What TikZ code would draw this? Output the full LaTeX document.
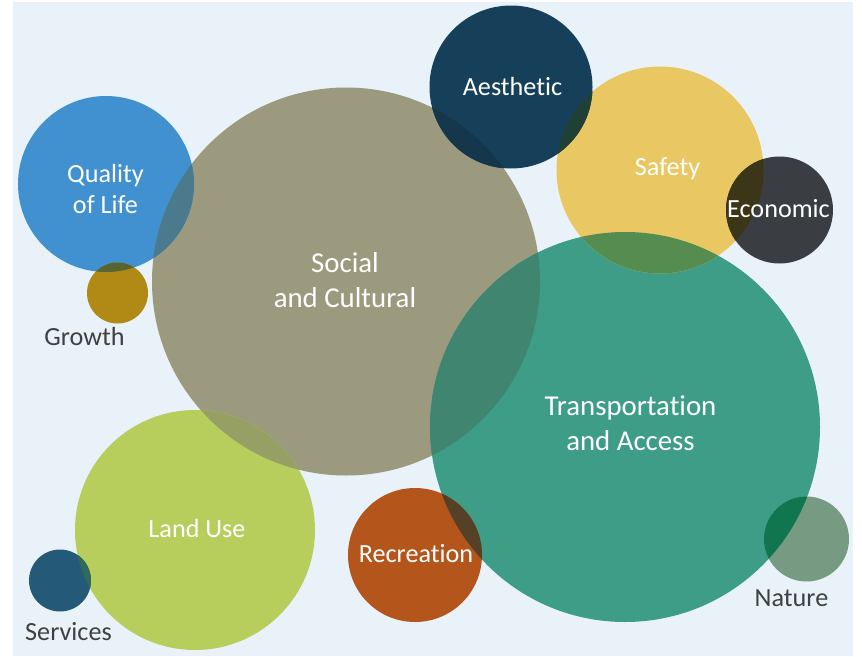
\documentclass[tikz,border=0pt]{standalone}
\usepackage{fontspec}
\setmainfont{Carlito}[Ligatures=NoCommon]
\usepackage{tikz}
\usepackage{xcolor}
\definecolor{pagebg}{RGB}{233,241,249}
\definecolor{tagtext}{RGB}{64,64,64}
\definecolor{qolblue}{RGB}{65,145,208}
\definecolor{growthgold}{RGB}{176,138,20}
\definecolor{socialgray}{RGB}{155,154,126}
\definecolor{aesnavy}{RGB}{22,64,90}
\definecolor{safeyellow}{RGB}{233,199,99}
\definecolor{econgray}{RGB}{58,61,66}
\definecolor{transteal}{RGB}{62,157,135}
\definecolor{landgreen}{RGB}{184,206,92}
\definecolor{recorange}{RGB}{180,86,28}
\definecolor{natgreen}{RGB}{118,155,130}
\definecolor{servblue}{RGB}{36,90,120}

\begin{document}
\begin{tikzpicture}[x=0.02cm,y=-0.02cm,
  bubble/.style={text=white,font=\fontsize{14.9}{17.6}\selectfont,align=center,anchor=base},
  bigbubble/.style={bubble,font=\fontsize{16.4}{19.9}\selectfont},
  tag/.style={text=tagtext,font=\fontsize{14.9}{17.6}\selectfont,anchor=base}]
% page and panel
\fill[white] (0,0) rectangle (862,656);
\fill[pagebg] (13,2) rectangle (853,656);
\useasboundingbox (0,0) rectangle (862,656);

% bubble centres
\coordinate (qol) at (106,184);
\coordinate (gro) at (117.5,293);
\coordinate (soc) at (346,281.5);
\coordinate (aes) at (511,87);
\coordinate (saf) at (660,170);
\coordinate (eco) at (779.5,210);
\coordinate (tra) at (625,427);
\coordinate (lan) at (195,530);
\coordinate (rec) at (415,555);
\coordinate (nat) at (806.5,539);
\coordinate (ser) at (60,580.5);

% bubbles
\fill[socialgray] (soc) circle[radius=194];
\fill[qolblue] (qol) circle[radius=88];
\fill[growthgold] (gro) circle[radius=30.5];
\fill[landgreen] (lan) circle[radius=120];
\fill[transteal] (tra) circle[radius=195];
\fill[safeyellow] (saf) circle[radius=103.5];
\fill[econgray] (eco) circle[radius=53.5];
\fill[aesnavy] (aes) circle[radius=81.5];
\fill[recorange] (rec) circle[radius=67];
\fill[natgreen] (nat) circle[radius=42.5];
\fill[servblue] (ser) circle[radius=31];

% overlaps
\begin{scope}\clip (soc) circle[radius=194]; \fill[fill={rgb,255:red,74;green,122;blue,140}] (qol) circle[radius=88];\end{scope}
\begin{scope}\clip (qol) circle[radius=88]; \fill[fill={rgb,255:red,88;green,100;blue,50}] (gro) circle[radius=30.5];\end{scope}
\begin{scope}\clip (soc) circle[radius=194]; \fill[fill={rgb,255:red,150;green,159;blue,100}] (lan) circle[radius=120];\end{scope}
\begin{scope}\clip (soc) circle[radius=194]; \fill[fill={rgb,255:red,63;green,133;blue,112}] (tra) circle[radius=195];\end{scope}
\begin{scope}\clip (tra) circle[radius=195]; \fill[fill={rgb,255:red,85;green,140;blue,80}] (saf) circle[radius=103.5];\end{scope}
\begin{scope}\clip (saf) circle[radius=103.5]; \fill[fill={rgb,255:red,59;green,54;blue,24}] (eco) circle[radius=53.5];\end{scope}
\begin{scope}\clip (soc) circle[radius=194]; \fill[fill={rgb,255:red,20;green,55;blue,75}] (aes) circle[radius=81.5];\end{scope}
\begin{scope}\clip (saf) circle[radius=103.5]; \fill[fill={rgb,255:red,32;green,63;blue,53}] (aes) circle[radius=81.5];\end{scope}
\begin{scope}\clip (tra) circle[radius=195]; \fill[fill={rgb,255:red,85;green,65;blue,40}] (rec) circle[radius=67];\end{scope}
\begin{scope}\clip (tra) circle[radius=195]; \fill[fill={rgb,255:red,15;green,118;blue,80}] (nat) circle[radius=42.5];\end{scope}
\begin{scope}\clip (lan) circle[radius=120]; \fill[fill={rgb,255:red,47;green,106;blue,90}] (ser) circle[radius=31];\end{scope}

% labels (multi-line ones sit on their last baseline)
\node[bubble] (qoltext) at (105.5,213) {Quality\\of Life};
\node[bigbubble] (soctext) at (345,307) {Social\\and Cultural};
\node[bubble] (aestext) at (512.5,95) {Aesthetic};
\node[bubble] (saftext) at (667.5,175) {Safety};
\node[bubble] (ecotext) at (778.5,217) {Economic};
\node[bigbubble] (tratext) at (630.5,450) {Transportation\\and Access};
\node[bubble] (lantext) at (197,537) {Land Use};
\node[bubble] (rectext) at (416,562) {Recreation};
\node[tag] (grotext) at (84.5,345) {Growth};
\node[tag] (nattext) at (791.5,606) {Nature};
\node[tag] (sertext) at (68.5,640) {Services};
\end{tikzpicture}
\end{document}
